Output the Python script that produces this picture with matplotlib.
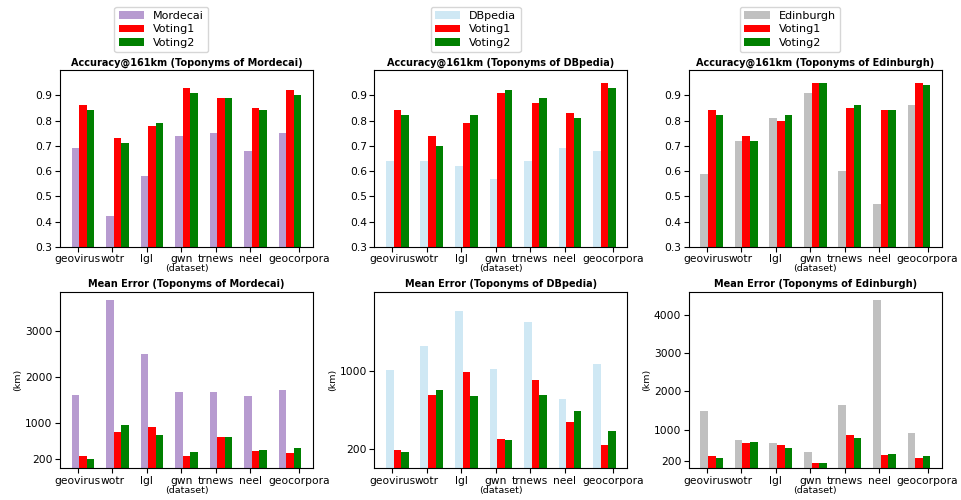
"""Accuracy@161km and mean error of Voting1/Voting2 vs. three toponym sources."""

import matplotlib

matplotlib.use("Agg")

import matplotlib.pyplot as plt
import numpy as np

datasets = ["geovirus", "wotr", "lgl", "gwn", "trnews", "neel", "geocorpora"]
sources = ["Mordecai", "DBpedia", "Edinburgh"]
source_colors = ["#b79bd0", "#cfe8f4", "#c0c0c0"]

# Accuracy@161km, one list per (source, method)
acc_mordecai = [0.69, 0.42, 0.58, 0.74, 0.75, 0.68, 0.75]
acc_mordecai_v1 = [0.86, 0.73, 0.78, 0.93, 0.89, 0.85, 0.92]
acc_mordecai_v2 = [0.84, 0.71, 0.79, 0.91, 0.89, 0.84, 0.90]

acc_dbpedia = [0.64, 0.64, 0.62, 0.57, 0.64, 0.69, 0.68]
acc_dbpedia_v1 = [0.84, 0.74, 0.79, 0.91, 0.87, 0.83, 0.95]
acc_dbpedia_v2 = [0.82, 0.70, 0.82, 0.92, 0.89, 0.81, 0.93]

acc_edinburgh = [0.59, 0.72, 0.81, 0.91, 0.60, 0.47, 0.86]
acc_edinburgh_v1 = [0.84, 0.74, 0.80, 0.95, 0.85, 0.84, 0.95]
acc_edinburgh_v2 = [0.82, 0.72, 0.82, 0.95, 0.86, 0.84, 0.94]

# Mean error (km)
err_mordecai = [1606, 3679, 2504, 1657, 1672, 1569, 1701]
err_mordecai_v1 = [277, 796, 898, 277, 693, 372, 336]
err_mordecai_v2 = [212, 942, 737, 350, 679, 409, 453]

err_dbpedia = [1003, 1256, 1615, 1020, 1499, 713, 1068]
err_dbpedia_v1 = [186, 754, 989, 302, 904, 477, 241]
err_dbpedia_v2 = [166, 805, 743, 289, 754, 586, 381]

err_edinburgh = [1491, 741, 664, 414, 1647, 4379, 914]
err_edinburgh_v1 = [319, 647, 612, 147, 871, 353, 259]
err_edinburgh_v2 = [259, 672, 526, 147, 793, 379, 328]

acc_rows = [
    (acc_mordecai, acc_mordecai_v1, acc_mordecai_v2),
    (acc_dbpedia, acc_dbpedia_v1, acc_dbpedia_v2),
    (acc_edinburgh, acc_edinburgh_v1, acc_edinburgh_v2),
]
err_rows = [
    (err_mordecai, err_mordecai_v1, err_mordecai_v2),
    (err_dbpedia, err_dbpedia_v1, err_dbpedia_v2),
    (err_edinburgh, err_edinburgh_v1, err_edinburgh_v2),
]
err_yticks = [[200, 1000, 2000, 3000], [200, 1000], [200, 1000, 2000, 3000, 4000]]
err_ymax = [None, 1810, None]

width = 0.22
# tick marks in the original sit slightly off the group centres
tick_offset = np.array([-0.15, -0.15, -0.15, -0.15, -0.15, -0.15, 0.25])
fs = 7.7

fig, axes = plt.subplots(2, 3, figsize=(9.62, 5.0), dpi=100)
fig.subplots_adjust(left=0.0624, right=0.979, bottom=0.0634, top=0.86,
                    wspace=0.243, hspace=0.253)

x = np.arange(len(datasets))


def draw(ax, values, color, label_src):
    base, v1, v2 = values
    ax.bar(x - width, base, width, color=color, label=label_src)
    ax.bar(x, v1, width, color="red", label="Voting1")
    ax.bar(x + width, v2, width, color="green", label="Voting2")
    ax.set_xticks(x + tick_offset)
    ax.set_xticklabels(datasets, fontsize=fs)
    ax.tick_params(axis="both", labelsize=fs, pad=2)
    ax.set_xlabel("(dataset)", fontsize=6.8, labelpad=0)


for j, src in enumerate(sources):
    ax = axes[0, j]
    draw(ax, acc_rows[j], source_colors[j], src)
    ax.set_ylim(0.3, 1.0)
    ax.set_yticks([0.3, 0.4, 0.5, 0.6, 0.7, 0.8, 0.9])
    ax.set_title(f"Accuracy@161km (Toponyms of {src})", fontsize=7.0,
                 fontweight="bold", pad=3)
    ax.legend(loc="lower center", bbox_to_anchor=(0.4, 1.1), fontsize=8.0,
              borderaxespad=0, labelspacing=0.33, borderpad=0.38,
              handleheight=0.7, handlelength=2.3)

    ax = axes[1, j]
    draw(ax, err_rows[j], source_colors[j], src)
    if err_ymax[j] is not None:
        ax.set_ylim(0, err_ymax[j])
    ax.set_yticks(err_yticks[j])
    ax.set_ylabel("(km)", fontsize=6.8, labelpad=2)
    ax.set_title(f"Mean Error (Toponyms of {src})", fontsize=7.0,
                 fontweight="bold", pad=3)

fig.savefig("out.png", dpi=100)
